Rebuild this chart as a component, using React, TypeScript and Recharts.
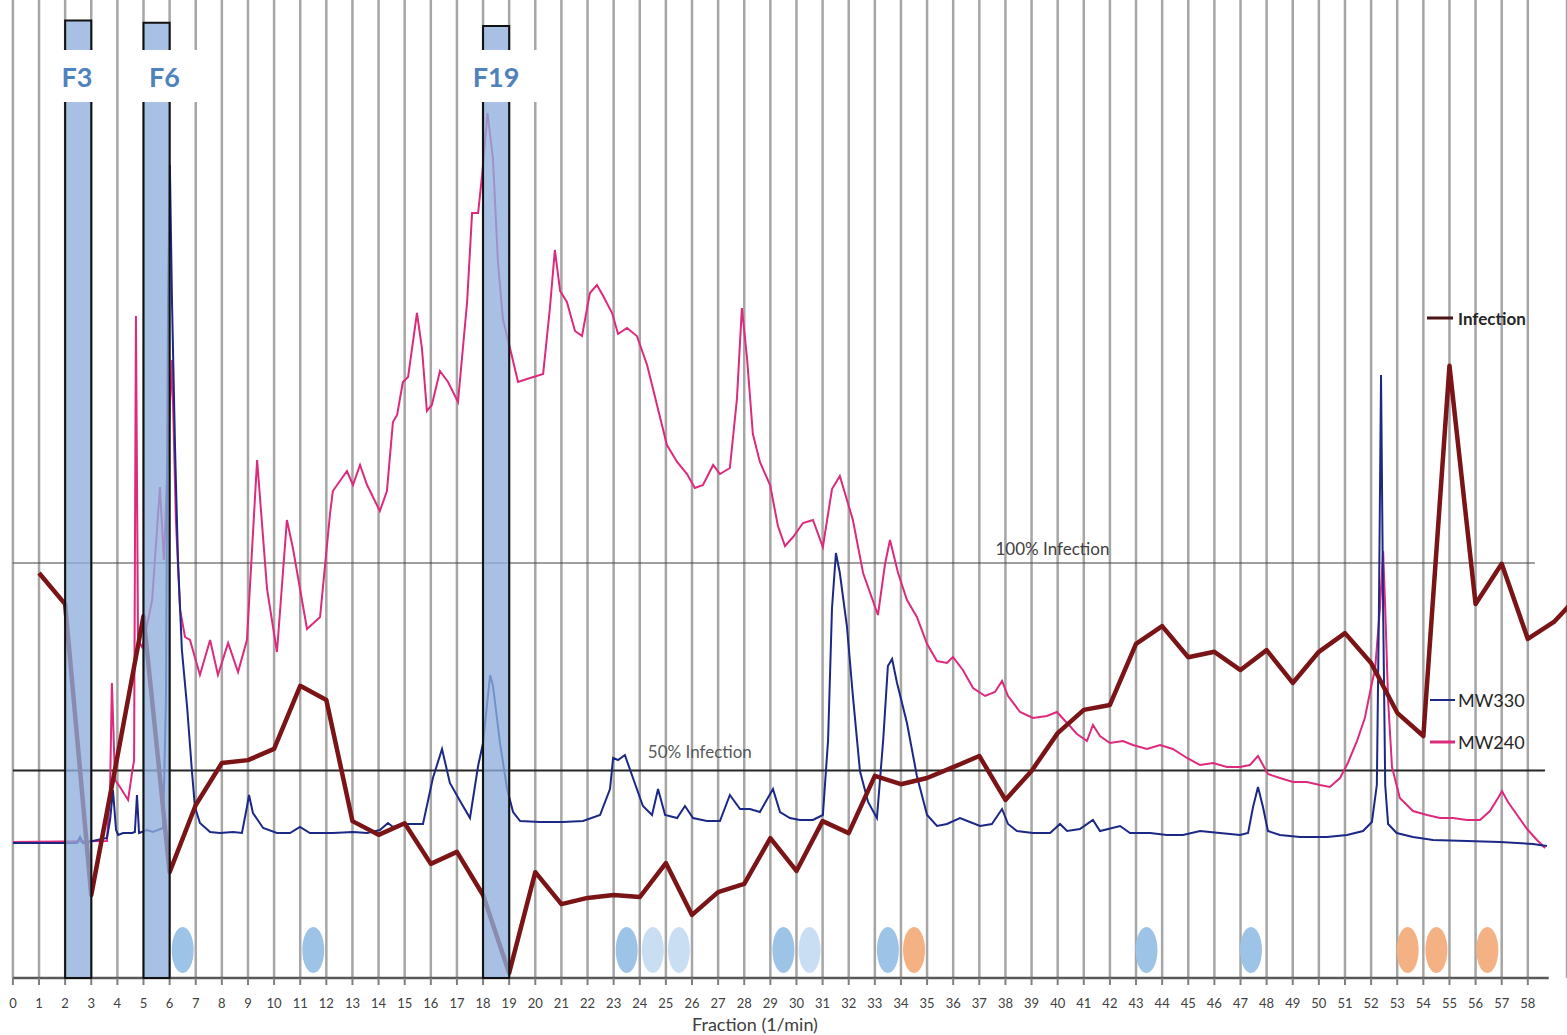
import React from "react";
import {
  ComposedChart,
  Line,
  Scatter,
  XAxis,
  YAxis,
  CartesianGrid,
  ReferenceArea,
  ReferenceLine,
  ReferenceDot,
} from "recharts";

// Bioassay: infection (%) per collected fraction, one value per minute
const fractions = [
  1, 2, 3, 4, 5, 6, 7, 8, 9, 10, 11, 12, 13, 14, 15, 16, 17, 18, 19, 20, 21, 22, 23, 24, 25, 26, 27, 28, 29, 30,
  31, 32, 33, 34, 35, 36, 37, 38, 39, 40, 41, 42, 43, 44, 45, 46, 47, 48, 49, 50, 51, 52, 53, 54, 55, 56, 57, 58,
  59, 60,
];
const infection = [
  97.6, 90.1, 20.0, 53.3, 87.2, 25.5, 41.7, 51.8, 52.5, 55.2, 70.4, 67.0, 37.8, 34.5, 37.3, 27.5, 30.4, 20.0, 1.2,
  25.5, 17.8, 19.3, 20.0, 19.5, 27.7, 15.2, 20.7, 22.7, 33.7, 25.8, 37.8, 34.9, 48.7, 46.7, 48.2, 50.8, 53.5, 42.9,
  49.9, 59.0, 64.6, 65.8, 80.5, 84.8, 77.3, 78.6, 74.2, 79.0, 71.1, 78.6, 83.1, 75.9, 63.9, 58.3, 147.5, 90.1, 99.8,
  81.7, 85.8, 92.5,
];

// UV traces [time (min), signal (mAU)]
const mw240: [number, number][] = [
  [0.0, 1], [3.6, 2], [3.72, 53], [3.79, 160], [3.91, 63], [4.1, 56], [4.41, 43], [4.56, 70], [4.64, 83],
  [4.71, 527], [4.79, 203], [4.94, 196], [5.02, 203], [5.33, 243], [5.63, 356], [5.78, 283], [5.94, 393],
  [6.09, 483], [6.24, 323], [6.4, 233], [6.59, 206], [6.78, 203], [7.16, 168], [7.55, 203], [7.85, 168],
  [8.24, 200], [8.62, 171], [8.96, 203], [9.35, 383], [9.73, 254], [10.11, 191], [10.49, 323], [10.72, 295],
  [11.26, 214], [11.76, 226], [12.14, 329], [12.25, 352], [12.79, 372], [13.02, 358], [13.29, 378], [13.56, 358],
  [14.05, 332], [14.32, 352], [14.55, 421], [14.71, 428], [14.93, 461], [15.13, 466], [15.47, 530], [15.66, 495],
  [15.85, 432], [16.04, 438], [16.35, 472], [16.66, 461], [17.04, 441], [17.39, 541], [17.58, 630], [17.81, 630],
  [17.96, 667], [18.17, 730], [18.38, 684], [18.57, 581], [18.76, 524], [19.03, 495], [19.34, 461], [19.68, 464],
  [20.3, 469], [20.56, 535], [20.75, 593], [20.95, 552], [21.21, 541], [21.52, 512], [21.79, 507], [22.09, 550],
  [22.36, 558], [22.6, 547], [22.94, 530], [23.17, 509], [23.51, 515], [23.89, 507], [24.28, 478], [24.66, 438],
  [25.04, 398], [25.43, 381], [25.81, 369], [26.11, 355], [26.42, 358], [26.81, 378], [27.07, 369], [27.45, 375],
  [27.72, 444], [27.91, 535], [28.11, 484], [28.33, 409], [28.6, 381], [28.99, 358], [29.29, 317], [29.56, 297],
  [29.87, 306], [30.25, 320], [30.63, 323], [31.01, 296], [31.36, 354], [31.66, 367], [32.16, 323], [32.55, 270],
  [33.12, 228], [33.39, 279], [33.58, 303], [33.89, 270], [34.23, 243], [34.61, 226], [35.0, 199], [35.38, 182],
  [35.76, 180], [35.99, 186], [36.37, 173], [36.76, 155], [37.22, 147], [37.6, 151], [37.87, 162], [38.1, 147],
  [38.56, 131], [39.05, 125], [39.59, 127], [39.97, 131], [40.36, 120], [40.74, 109], [41.12, 102], [41.35, 118],
  [41.62, 107], [42.0, 100], [42.5, 102], [42.88, 98], [43.42, 94], [43.92, 98], [44.41, 94], [44.95, 85],
  [45.45, 78], [45.95, 80], [46.48, 76], [46.98, 76], [47.36, 78], [47.67, 87], [48.05, 69], [48.51, 65],
  [49.01, 61], [49.54, 61], [50.04, 58], [50.42, 56], [50.81, 65], [51.11, 80], [51.46, 102], [51.76, 125],
  [52.03, 160], [52.15, 173], [52.34, 235], [52.46, 292], [52.54, 235], [52.65, 143], [52.8, 76], [53.1, 45],
  [53.6, 32], [54.14, 28], [54.64, 25], [55.13, 25], [55.67, 23], [56.17, 23], [56.55, 32], [56.86, 45],
  [57.01, 52], [57.24, 41], [57.59, 28], [57.97, 14], [58.35, 3], [58.66, -5],
];

const mw330: [number, number][] = [
  [0.0, 0], [2.45, 0], [2.57, 6], [2.68, 0], [3.6, 5], [3.72, 23], [3.83, 53], [3.95, 13], [4.03, 8], [4.22, 10],
  [4.56, 10], [4.67, 11], [4.75, 48], [4.83, 10], [5.13, 13], [5.36, 11], [5.75, 15], [5.86, 143], [5.94, 543],
  [6.01, 678], [6.09, 543], [6.21, 393], [6.32, 283], [6.47, 193], [6.67, 136], [6.86, 70], [6.97, 36], [7.16, 20],
  [7.55, 11], [7.93, 10], [8.43, 11], [8.77, 10], [8.96, 36], [9.04, 48], [9.19, 30], [9.58, 15], [10.11, 10],
  [10.61, 10], [10.99, 16], [11.37, 10], [12.25, 10], [13.02, 11], [13.56, 10], [14.05, 13], [14.36, 20],
  [14.55, 16], [14.93, 19], [15.7, 19], [16.08, 65], [16.43, 94], [16.73, 60], [17.12, 42], [17.5, 25],
  [17.81, 77], [18.0, 100], [18.27, 168], [18.38, 157], [18.65, 100], [18.92, 54], [19.15, 31], [19.42, 22],
  [20.18, 21], [21.06, 21], [21.83, 22], [22.48, 28], [22.86, 54], [22.98, 85], [23.17, 83], [23.43, 88],
  [23.74, 65], [24.12, 37], [24.47, 28], [24.7, 54], [24.97, 28], [25.43, 25], [25.73, 37], [26.04, 25],
  [26.57, 22], [27.07, 22], [27.45, 48], [27.84, 34], [28.22, 34], [28.6, 31], [29.1, 54], [29.37, 31],
  [29.75, 25], [30.13, 23], [30.63, 23], [31.01, 28], [31.21, 103], [31.36, 235], [31.51, 290], [31.66, 270],
  [31.93, 217], [32.16, 147], [32.43, 72], [32.74, 41], [33.08, 25], [33.32, 103], [33.5, 177], [33.66, 184],
  [33.85, 160], [34.23, 120], [34.61, 67], [35.0, 28], [35.38, 17], [35.76, 19], [36.26, 25], [36.64, 21],
  [37.03, 17], [37.48, 19], [37.87, 34], [38.1, 19], [38.44, 12], [39.05, 10], [39.71, 10], [40.09, 19],
  [40.36, 12], [40.85, 14], [41.35, 23], [41.62, 12], [42.39, 17], [42.77, 10], [43.54, 10], [44.18, 8],
  [44.8, 8], [45.45, 12], [46.21, 10], [46.98, 8], [47.29, 10], [47.48, 36], [47.67, 56], [47.86, 36],
  [48.05, 12], [48.51, 8], [49.28, 6], [50.31, 6], [51.08, 8], [51.69, 12], [52.03, 21], [52.22, 58],
  [52.3, 235], [52.38, 468], [52.46, 235], [52.54, 58], [52.65, 19], [52.98, 10], [53.6, 6], [54.37, 3],
  [55.67, 2], [56.93, 1], [58.2, -1], [58.73, -3],
];

// Selected active fractions (bar height in % infection scale)
const selected = [
  { name: "F3", from: 2, to: 3, top: 230.7, boxFrom: 1.3, boxTo: 3.75, labelAt: 2.45 },
  { name: "F6", from: 5, to: 6, top: 230.2, boxFrom: 4.25, boxTo: 7.2, labelAt: 5.8 },
  { name: "F19", from: 18, to: 19, top: 229.4, boxFrom: 17.3, boxTo: 20.2, labelAt: 18.5 },
];

// Compound class markers under the traces
const markersBlue = [6.5, 11.5, 23.5, 29.5, 33.5, 43.4, 47.4];
const markersPale = [24.5, 25.5, 30.5];
const markersOrange = [34.5, 53.4, 54.5, 56.45];

const tickValues = Array.from({ length: 59 }, (_, i) => i);

const MARK_Y = 6.75;

const ellipse = (fill: string) => (p: any) => (
  <ellipse cx={p.cx} cy={p.cy} rx={11} ry={23} fill={fill} />
);

export default function App() {
  const infRows = fractions.map((t, i) => ({ t, inf: infection[i] }));
  const mw240Rows = mw240.map(([t, a]) => ({ t, a }));
  const mw330Rows = mw330.map(([t, a]) => ({ t, a }));
  const toMarks = (xs: number[]) => xs.map((t) => ({ t, m: MARK_Y }));

  return (
    <div
      style={{
        position: "absolute",
        left: 0,
        top: 0,
        width: 1567,
        height: 1035,
        background: "#fff",
        fontFamily: "Lato, 'Open Sans', sans-serif",
      }}
    >
      <ComposedChart width={1567} height={1035} margin={{ top: 0, right: 0, bottom: 0, left: 12.9 }}>
        <CartesianGrid yAxisId="inf" vertical horizontal={false} stroke="#a6a6a6" strokeWidth={2.5} />
        <XAxis
          type="number"
          dataKey="t"
          domain={[0, 59.5]}
          ticks={tickValues}
          interval={0}
          allowDataOverflow
          height={57}
          axisLine={false}
          tickLine={{ stroke: "#7f7f7f", strokeWidth: 2 }}
          tickSize={7}
          tickMargin={14}
          tick={{ fontSize: 13, fill: "#404040", fontFamily: "Lato" }}
        />
        <YAxis yAxisId="inf" hide domain={[0, 235.66]} allowDataOverflow />
        <YAxis yAxisId="abs" hide domain={[-135, 843]} allowDataOverflow />

        <ReferenceLine
          yAxisId="inf"
          segment={[{ x: 0, y: 100 }, { x: 58.27, y: 100 }]}
          stroke="#404040"
          strokeWidth={1.2}
          ifOverflow="visible"
        />
        <ReferenceLine
          yAxisId="inf"
          segment={[{ x: 0, y: 50 }, { x: 58.66, y: 50 }]}
          stroke="#262626"
          strokeWidth={2}
          ifOverflow="visible"
        />
        <ReferenceLine
          yAxisId="inf"
          segment={[{ x: 0, y: 0 }, { x: 58.8, y: 0 }]}
          stroke="#595959"
          strokeWidth={2.5}
          ifOverflow="visible"
        />
        <ReferenceDot
          yAxisId="inf"
          x={39.8}
          y={103.4}
          r={0}
          fill="none"
          stroke="none"
          label={{ value: "100% Infection", position: "center", fontSize: 17, fill: "#404040" }}
        />
        <ReferenceDot
          yAxisId="inf"
          x={26.3}
          y={54.5}
          r={0}
          fill="none"
          stroke="none"
          label={{ value: "50% Infection", position: "center", fontSize: 17, fill: "#595959" }}
        />

        <Line
          data={mw240Rows}
          yAxisId="abs"
          dataKey="a"
          type="linear"
          stroke="#dc2a7c"
          strokeWidth={2}
          dot={false}
          isAnimationActive={false}
        />
        <Line
          data={mw330Rows}
          yAxisId="abs"
          dataKey="a"
          type="linear"
          stroke="#1c2886"
          strokeWidth={2}
          dot={false}
          isAnimationActive={false}
        />
        <Line
          data={infRows}
          yAxisId="inf"
          dataKey="inf"
          type="linear"
          stroke="#7a1416"
          strokeWidth={4.5}
          strokeLinejoin="round"
          dot={false}
          isAnimationActive={false}
        />

        <Scatter yAxisId="inf" data={toMarks(markersBlue)} dataKey="m" shape={ellipse("#9dc3e6")} isAnimationActive={false} />
        <Scatter yAxisId="inf" data={toMarks(markersPale)} dataKey="m" shape={ellipse("#c9def2")} isAnimationActive={false} />
        <Scatter yAxisId="inf" data={toMarks(markersOrange)} dataKey="m" shape={ellipse("#f4b183")} isAnimationActive={false} />

        {selected.map((s) => (
          <ReferenceArea
            key={s.name}
            yAxisId="inf"
            x1={s.from}
            x2={s.to}
            y1={0}
            y2={s.top}
            fill="#8eaedb"
            fillOpacity={0.78}
            stroke="#111"
            strokeWidth={2}
            ifOverflow="visible"
            zIndex={650}
          />
        ))}
        {selected.map((s) => (
          <ReferenceArea
            key={s.name + "-box"}
            yAxisId="inf"
            x1={s.boxFrom}
            x2={s.boxTo}
            y1={211.1}
            y2={223.6}
            fill="#fff"
            fillOpacity={1}
            stroke="none"
            ifOverflow="visible"
            zIndex={700}
          />
        ))}
        {selected.map((s) => (
          <ReferenceDot
            key={s.name + "-label"}
            yAxisId="inf"
            x={s.labelAt}
            y={217.1}
            r={0}
            fill="none"
            stroke="none"
            zIndex={750}
            label={{ value: s.name, position: "center", fontSize: 27, fontWeight: 700, fill: "#4f81bd" }}
          />
        ))}
      </ComposedChart>

      <svg
        width={1567}
        height={1035}
        style={{ position: "absolute", left: 0, top: 0, pointerEvents: "none" }}
        fontFamily="Lato, 'Open Sans', sans-serif"
      >
        <line x1={1427} x2={1453} y1={318} y2={318} stroke="#4a1212" strokeWidth={3} />
        <text x={1458} y={318} dominantBaseline="central" fontSize={17} fontWeight={700} fill="#262626">
          Infection
        </text>
        <line x1={1430} x2={1455} y1={700} y2={700} stroke="#1c2886" strokeWidth={2} />
        <text x={1458} y={700} dominantBaseline="central" fontSize={18} fill="#262626">
          MW330
        </text>
        <line x1={1430} x2={1455} y1={742} y2={742} stroke="#dc2a7c" strokeWidth={3} />
        <text x={1458} y={742} dominantBaseline="central" fontSize={18} fill="#262626">
          MW240
        </text>
        <text x={755} y={1024} textAnchor="middle" dominantBaseline="central" fontSize={18} fill="#404040">
          Fraction (1/min)
        </text>
      </svg>
    </div>
  );
}
